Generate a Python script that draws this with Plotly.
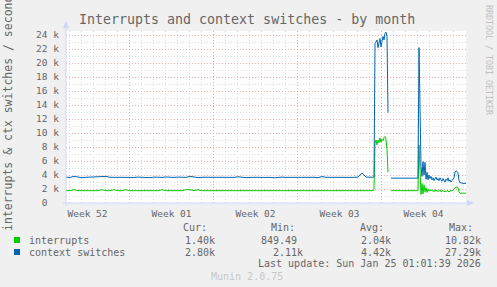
import pandas as pd
import plotly.graph_objects as go

# ---------------- data ----------------
base_start = "2025-12-22 17:00"       # 8-hourly samples (monthly consolidation)
event_start = "2026-01-17 05:00"      # 2-hourly samples around the incidents

ctx_base = [3.70, 3.65, 3.80, 3.67, 3.62, 3.67, 3.70, 3.66, 3.67, 3.72,
            3.80, 3.67, 3.66, 3.62, 3.70, 3.67, 3.68, 3.65, 3.70, 3.66,
            3.67, 3.62, 3.70, 3.67, 3.66, 3.72, 3.67, 3.65, 3.70, 3.67,
            3.66, 3.82, 3.67, 3.62, 3.68, 3.67, 3.70, 3.66, 3.67, 3.62,
            3.70, 3.67, 3.66, 3.75, 3.67, 3.62, 3.66, 3.70, 3.67, 3.65,
            3.70, 3.66, 3.60, 3.67, 3.70, 3.66, 3.67, 3.62, 3.72, 3.67,
            3.66, 3.70, 3.67, 3.62, 3.78, 3.67, 3.66, 3.70, 3.67, 3.62,
            3.68, 3.67, 3.66, 3.70, 4.30, 3.70, 3.67]
irq_base = [1.76, 1.76, 1.90, 1.76, 1.76, 1.76, 1.76, 1.76, 1.76, 1.90,
            1.76, 1.76, 1.90, 1.76, 1.76, 1.90, 1.76, 1.76, 1.76, 1.76,
            1.76, 1.76, 1.76, 1.76, 1.90, 1.76, 1.76, 1.76, 1.76, 1.76,
            1.90, 1.90, 1.76, 1.90, 1.76, 1.76, 1.76, 1.76, 1.76, 1.76,
            1.76, 1.76, 1.76, 1.76, 1.76, 1.76, 1.76, 1.76, 1.76, 1.76,
            1.76, 1.76, 1.76, 1.76, 1.76, 1.76, 1.76, 1.76, 1.76, 1.76,
            1.76, 1.76, 1.76, 1.76, 1.76, 1.76, 1.76, 1.76, 1.76, 1.76,
            1.76, 1.76, 1.76, 1.76, 1.76, 1.76, 1.76]

ctx_event = [3.70, 3.68, 3.75, 22.8, 23.0, 23.3, 22.2, 22.9, 23.5, 22.3,
             23.0, 23.8, 23.3, 24.2, 24.4, 23.8, 12.9, None, None, 3.55,
             3.55, 3.55, 3.58, 3.55, 3.55, 3.52, 3.55, 3.55, 3.55, 3.58,
             3.55, 3.55, 3.55, 3.52, 3.55, 3.55, 3.55, 3.58, 3.55, 3.55,
             3.55, 3.52, 3.55, 3.55, 3.55, 3.55, 3.55, 22.2, 12.0, 5.2,
             3.8, 5.9, 4.0, 5.8, 3.4, 4.4, 3.3, 4.0, 3.5, 3.8,
             3.3, 3.6, 3.2, 3.5, 3.7, 3.3, 3.5, 3.2, 3.6, 3.3,
             3.1, 3.5, 3.3, 3.0, 3.4, 3.2, 3.6, 3.1, 3.3, 3.0,
             3.2, 3.4, 3.6, 4.4, 4.6, 4.5, 4.3, 3.2, 2.9, 2.9,
             2.8, 2.8, 2.8, 2.8, 2.8]
irq_event = [1.76, 1.76, 1.90, 8.5, 9.0, 8.3, 9.0, 8.6, 9.3, 8.7,
             9.1, 8.9, 9.35, 9.5, 9.1, 7.6, 4.4, None, None, 1.76,
             1.76, 1.76, 1.76, 1.76, 1.76, 1.76, 1.76, 1.76, 1.76, 1.76,
             1.76, 1.76, 1.76, 1.76, 1.76, 1.76, 1.76, 1.76, 1.76, 1.76,
             1.76, 1.76, 1.76, 1.76, 1.76, 1.76, 1.76, 8.3, 4.5, 1.2,
             2.8, 1.3, 2.6, 1.6, 2.2, 1.5, 2.0, 1.7, 1.8, 1.9,
             1.7, 1.8, 1.6, 1.9, 1.7, 1.8, 1.6, 1.7, 1.9, 1.6,
             1.7, 1.8, 1.6, 1.7, 1.6, 1.8, 1.7, 1.6, 1.7, 1.8,
             1.7, 1.8, 1.9, 2.1, 2.3, 2.3, 2.2, 1.6, 1.4, 1.4,
             1.4, 1.4, 1.4, 1.4, 1.4]

week_labels = ["Week 52", "Week 01", "Week 02", "Week 03", "Week 04"]
week_label_dates = ["2025-12-24 12:00", "2025-12-31 12:00", "2026-01-07 12:00",
                    "2026-01-14 12:00", "2026-01-21 12:00"]
week_grid_dates = ["2025-12-28", "2026-01-04", "2026-01-11", "2026-01-18", "2026-01-25"]
x_range = ["2025-12-22 17:00", "2026-01-25 01:00"]

y_ticks = [0, 2, 4, 6, 8, 10, 12, 14, 16, 18, 20, 22, 24]
y_minor = [1, 3, 5, 7, 9, 11, 13, 15, 17, 19, 21, 23]

series_names = ["interrupts", "context switches"]
stat_headers = ["Cur:", "Min:", "Avg:", "Max:"]
stats_irq = ["1.40k", "849.49\u00a0", "2.04k", "10.82k"]
stats_ctx = ["2.80k", "2.11k", "4.42k", "27.29k"]
last_update = "Last update: Sun Jan 25 01:01:39 2026"

# ---------------- build ----------------
t_base = pd.date_range(base_start, periods=len(ctx_base), freq="8h")
t_event = pd.date_range(event_start, periods=len(ctx_event), freq="2h")
t = list(t_base) + list(t_event)
irq = [None if v is None else v * 1000 for v in irq_base + irq_event]
ctx = [None if v is None else v * 1000 for v in ctx_base + ctx_event]

days = pd.date_range("2025-12-22", "2026-01-25", freq="D")
day_grid = [d for d in days if d.dayofweek != 6]   # Sundays get the week grid

GREEN = "#00CC00"
BLUE = "#0066B3"
FONT = "DejaVu Sans Mono"
FC = "#666666"
AXISC = "#CFD6F8"
MGRID = "#F2A8A8"
GRID = "#DCDCDC"

L, R, T, B = 66, 466, 31, 203
W, H = R - L, B - T
YMAX = 24000 + (B - T - 168) / 7 * 1000


def px(x):
    return (x - L) / W


def py(y):
    return (B - y) / H


fig = go.Figure()
fig.add_trace(go.Scatter(x=t, y=irq, mode="lines", line=dict(color=GREEN, width=1),
                         connectgaps=False, hoverinfo="skip", name=series_names[0]))
fig.add_trace(go.Scatter(x=t, y=ctx, mode="lines", line=dict(color=BLUE, width=1),
                         connectgaps=False, hoverinfo="skip", name=series_names[1]))
fig.add_trace(go.Scatter(x=[], y=[], xaxis="x2", yaxis="y", showlegend=False))

fig.update_layout(
    width=497, height=287, autosize=False,
    margin=dict(l=L, r=497 - R, t=T, b=287 - B),
    paper_bgcolor="#F0F0F0", plot_bgcolor="#FFFFFF",
    showlegend=False,
    font=dict(family=FONT, size=9.5, color=FC),
    xaxis=dict(type="date", range=x_range, tickmode="array",
               tickvals=week_label_dates, ticktext=week_labels,
               showgrid=False, zeroline=False, showline=False,
               ticks="", ticklabelstandoff=3,
               tickfont=dict(family=FONT, size=9.5, color=FC),
               minor=dict(tickmode="array", tickvals=day_grid, showgrid=True,
                          gridcolor=GRID, griddash="1px,2px", gridwidth=1)),
    xaxis2=dict(type="date", overlaying="x", matches="x", anchor="y",
                tickmode="array", tickvals=week_grid_dates,
                showticklabels=False, ticks="", showgrid=True,
                gridcolor=MGRID, griddash="1px,2px", gridwidth=1,
                zeroline=False, showline=False),
    yaxis=dict(range=[0, YMAX], tickmode="array",
               tickvals=[v * 1000 for v in y_ticks],
               ticktext=["0\u00a0\u00a0"] + [f"{v} k" for v in y_ticks[1:]],
               showgrid=True, gridcolor=MGRID, griddash="1px,2px", gridwidth=1,
               zeroline=False, showline=False, ticks="", ticklabelstandoff=6,
               tickfont=dict(family=FONT, size=9.5, color=FC),
               minor=dict(tickmode="array", tickvals=[v * 1000 for v in y_minor],
                          showgrid=True, gridcolor=GRID,
                          griddash="1px,2px", gridwidth=1)),
)

# axis lines and arrows
fig.add_shape(type="line", xref="paper", yref="paper", x0=px(66), x1=px(66),
              y0=py(206), y1=py(27), line=dict(color=AXISC, width=1))
fig.add_shape(type="line", xref="paper", yref="paper", x0=px(63), x1=px(469),
              y0=py(203), y1=py(203), line=dict(color=AXISC, width=1))
fig.add_shape(type="path", xref="paper", yref="paper", fillcolor=AXISC, line=dict(width=0),
              path=f"M {px(63)} {py(28)} L {px(69)} {py(28)} L {px(66)} {py(21)} Z")
fig.add_shape(type="path", xref="paper", yref="paper", fillcolor=AXISC, line=dict(width=0),
              path=f"M {px(467)} {py(200)} L {px(467)} {py(206)} L {px(474)} {py(203)} Z")


def text(x, y, s, anchor="left", size=10, color=FC, angle=0):
    fig.add_annotation(x=px(x), y=py(y), xref="paper", yref="paper", text=s,
                       showarrow=False, xanchor=anchor, yanchor="middle",
                       textangle=angle, font=dict(family=FONT, size=size, color=color))


text(247, 19, "Interrupts and context switches - by month", anchor="center", size=13.3)
text(8, 114, "interrupts & ctx switches / second", anchor="center", size=11.5, angle=-90)
text(489, 60, "RRDTOOL / TOBI OETIKER", anchor="center", size=8.3, color="#C0C0C0", angle=90)

# legend
hdr_x = [181, 269, 358, 447]
val_right = [217, 305, 393, 483]
for hx, h in zip(hdr_x, stat_headers):
    text(hx, 227, h)
for row_y, color, name, vals in [(240, GREEN, series_names[0], stats_irq),
                                 (252, BLUE, series_names[1], stats_ctx)]:
    fig.add_shape(type="rect", xref="paper", yref="paper",
                  x0=px(14), x1=px(20), y0=py(row_y + 3), y1=py(row_y - 3),
                  fillcolor=color, line=dict(width=0))
    text(26.5, row_y, name)
    for vx, v in zip(val_right, vals):
        text(vx, row_y, v, anchor="right")
text(483, 263.5, last_update, anchor="right")
text(247, 276, "Munin 2.0.75", anchor="center", size=10, color="#C8C8C8")

fig.write_html("out.html", config={"displayModeBar": False})
